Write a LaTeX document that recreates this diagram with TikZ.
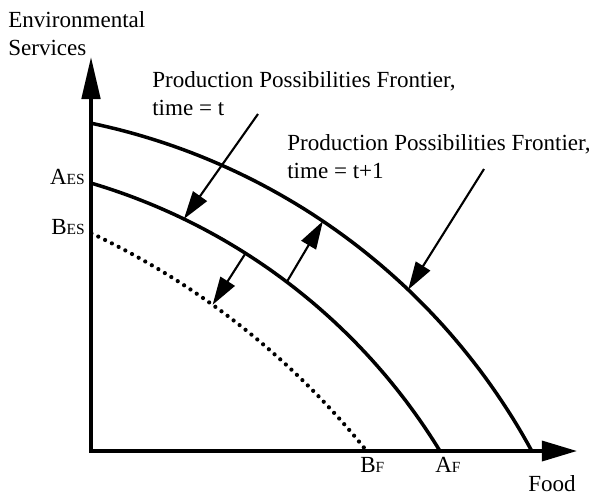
\documentclass[tikz,border=0pt]{standalone}
\usepackage{fontspec}
\setmainfont{Liberation Serif}
\usepackage{tikz}
\usetikzlibrary{arrows.meta}
\newcommand{\smallidx}[1]{{\fontsize{11}{12}\selectfont #1}}

\begin{document}
\begin{tikzpicture}[x=0.025cm,y=-0.025cm,font=\fontsize{16.4}{19.9}\selectfont,
  frontier/.style={line width=2.5pt},
  future/.style={line width=3pt,line cap=round,dash pattern=on 0pt off 5.4pt},
  pointer/.style={line width=1.5pt,-{Triangle[length=0.7cm,width=0.42cm]}},
  txt/.style={inner sep=0pt,align=left}]
  \useasboundingbox (0,0) rectangle (589,495);
  % axes
  \coordinate (O) at (91,451);
  \coordinate (ytip) at (91,57);
  \coordinate (xtip) at (577,451);
  \draw[line width=2.6pt,{Triangle[length=1.05cm,width=0.46cm]}-{Triangle[length=0.88cm,width=0.5cm]}] (ytip) -- (O) -- (xtip);
  % points where the pointers meet the frontiers (on circular arcs)
  \coordinate (o1) at ({-42.8+654*cos(56)},{763.3-654*sin(56)});
  \coordinate (o2) at ({-42.8+654*cos(46.4)},{763.3-654*sin(46.4)});
  \coordinate (m1) at ({-82.7+612.6*cos(64.2)},{770.5-612.6*sin(64.2)});
  \coordinate (m2) at ({-82.7+612.6*cos(57.6)},{770.5-612.6*sin(57.6)});
  \coordinate (m3) at ({-82.7+612.6*cos(52.9)},{770.5-612.6*sin(52.9)});
  \coordinate (d1) at ({-244.7+783.7*cos(54.3)},{941.2-783.7*sin(54.3)});
  % frontiers
  \draw[frontier] plot[domain=78.2:28.5,samples=60] ({-42.8+654*cos(\x)},{763.3-654*sin(\x)});
  \draw[frontier] plot[domain=73.5:31.4,samples=60] ({-82.7+612.6*cos(\x)},{770.5-612.6*sin(\x)});
  \draw[future] plot[domain=64.6:38.8,samples=60] ({-244.7+783.7*cos(\x)},{941.2-783.7*sin(\x)});
  % labels
  \node[txt,anchor=north west] (esax) at (8,11) {Environmental\\Services};
  \node[txt,anchor=north west] (ppf) at (152,71) {Production Possibilities Frontier,\\time = t};
  \node[txt,anchor=north west] (ppfnext) at (287,134) {Production Possibilities Frontier,\\time = t+1};
  \node[anchor=base east,inner sep=0pt] (aes) at (85,184) {A\smallidx{ES}};
  \node[anchor=base east,inner sep=0pt] (bes) at (85,234) {B\smallidx{ES}};
  \node[anchor=base west,inner sep=0pt] (bf) at (360,472) {B\smallidx{F}};
  \node[anchor=base west,inner sep=0pt] (af) at (435,472) {A\smallidx{F}};
  \node[anchor=base west,inner sep=0pt] (food) at (528,491) {Food};
  % pointers
  \coordinate (ppfend) at (258,114);
  \coordinate (ppfnextend) at (484,169);
  \draw[pointer] (ppfend) -- (m1);
  \draw[pointer] (ppfnextend) -- (o2);
  \draw[pointer] (m3) -- (o1);
  \draw[pointer] (m2) -- (d1);
\end{tikzpicture}
\end{document}
